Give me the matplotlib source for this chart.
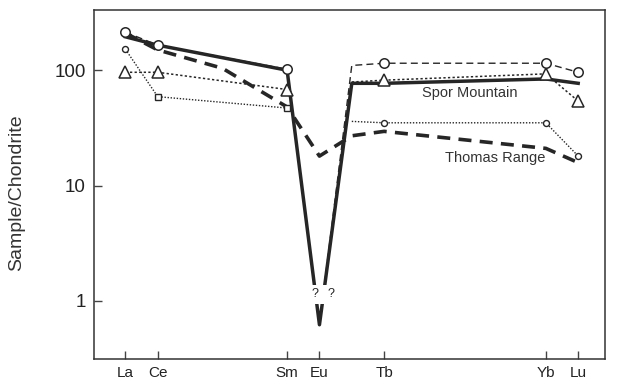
import numpy as np
import matplotlib
matplotlib.use("Agg")
import matplotlib.pyplot as plt
from matplotlib.patches import Rectangle

plt.rcParams['font.family'] = ['Liberation Sans', 'DejaVu Sans']

# ---------------- data ----------------
elements = ["La", "Ce", "Sm", "Eu", "Tb", "Yb", "Lu"]
atomic_numbers = [57, 58, 62, 63, 65, 70, 71]
y_ticks = [1, 10, 100]
y_tick_labels = ["1", "10", "100"]

nan = np.nan
# Spor Mountain (thick solid line)
spor_x = [57, 58, 62, 63, 64, 65, 70, 71]
spor_y = [195, 165, 100, 0.62, 77, 77, 84, 77]

# Thomas Range (thick dashed line)
thomas_x = [57, 58, 60, 62, 63, 64, 65, 70, 71]
thomas_y = [210, 150, 104, 48, 18, 27, 29.5, 21, 15.8]

# sample with large open circles (thin dashed)
circ_x = [57, 58, 62, 63, 64, 65, 70, 71]
circ_y = [214, 165, 102, 0.62, 110, 115, 115, 96]
circ_mark = [True, True, True, False, False, True, True, True]

# sample with open triangles (dotted)
tri_x = [57, 58, 62, 63, 64, 65, 70, 71]
tri_y = [96, 96, 68, nan, 79, 82, 93, 54]
tri_mark = [True, True, True, False, False, True, True, True]

# sample with small circles / squares (fine dotted)
sq_x = [57, 58, 62, 63, 64, 65, 70, 71]
sq_y = [152, 59, 47, nan, 36, 35, 35, 18]
sq_mark = ["o", "s", "s", None, None, "o", "o", "o"]

label_spor = "Spor Mountain"
label_thomas = "Thomas Range"
eu_question = "?"
# ---------------------------------------

ink = "#262626"
fig = plt.figure(figsize=(6.21, 3.80), dpi=100)
ax = fig.add_axes([0.1514, 0.0553, 0.8229, 0.9184])
ax.set_yscale("log")
ax.set_xlim(56.03, 71.83)
ax.set_ylim(0.313, 333)

# lines
ax.plot(spor_x, spor_y, color=ink, lw=2.5, solid_joinstyle="round", zorder=4)
ax.plot(thomas_x, thomas_y, color=ink, lw=2.6, dashes=(3.6, 2.3), zorder=3)
ax.plot(circ_x, circ_y, color=ink, lw=1.0, dashes=(5, 3), zorder=3)
ax.plot(tri_x, tri_y, color=ink, lw=1.1, dashes=(1.5, 1.5), zorder=3)
ax.plot(sq_x, sq_y, color=ink, lw=1.0, dashes=(1, 1.2), zorder=3)

# markers
cx = [x for x, m in zip(circ_x, circ_mark) if m]
cy = [y for y, m in zip(circ_y, circ_mark) if m]
ax.plot(cx, cy, ls="none", marker="o", ms=6.8, mfc="white", mec=ink, mew=1.1, zorder=6)
tx = [x for x, m in zip(tri_x, tri_mark) if m]
ty = [y for y, m in zip(tri_y, tri_mark) if m]
ax.plot(tx, ty, ls="none", marker="^", ms=8.3, mfc="white", mec=ink, mew=1.1, zorder=5)
for x, y, m in zip(sq_x, sq_y, sq_mark):
    if m is not None:
        ax.plot([x], [y], ls="none", marker=m, ms=4.3, mfc="white", mec=ink, mew=1.0, zorder=5)

# gap with question marks at Eu
ax.add_patch(Rectangle((62.55, 0.93), 1.0, 0.45, facecolor="white", edgecolor="none", zorder=7))
ax.text(62.87, 1.14, eu_question, ha="center", va="center", fontsize=9, color=ink, zorder=8)
ax.text(63.35, 1.14, eu_question, ha="center", va="center", fontsize=9, color=ink, zorder=8)

# series labels
ax.text(67.65, 63, label_spor, ha="center", va="center", fontsize=10.5, color="#333333")
ax.text(68.43, 17.5, label_thomas, ha="center", va="center", fontsize=10.5, color="#333333")

# axes styling
ax.set_xticks(atomic_numbers)
ax.set_xticklabels(elements)
ax.set_yticks(y_ticks)
ax.set_yticklabels(y_tick_labels)
ax.yaxis.set_minor_locator(matplotlib.ticker.NullLocator())
ax.tick_params(axis="both", direction="in", length=6, width=1.0, color="#444444")
ax.tick_params(axis="y", labelsize=13.5, pad=6, labelcolor="#222222")
ax.tick_params(axis="x", labelsize=11, pad=5, labelcolor="#222222")
for s in ax.spines.values():
    s.set_color("#333333")
    s.set_linewidth(1.1)
ax.set_ylabel("Sample/Chondrite", fontsize=14, color="#333333")
ax.yaxis.set_label_coords(-0.135, 0.476)

fig.savefig("out.png", dpi=100)
